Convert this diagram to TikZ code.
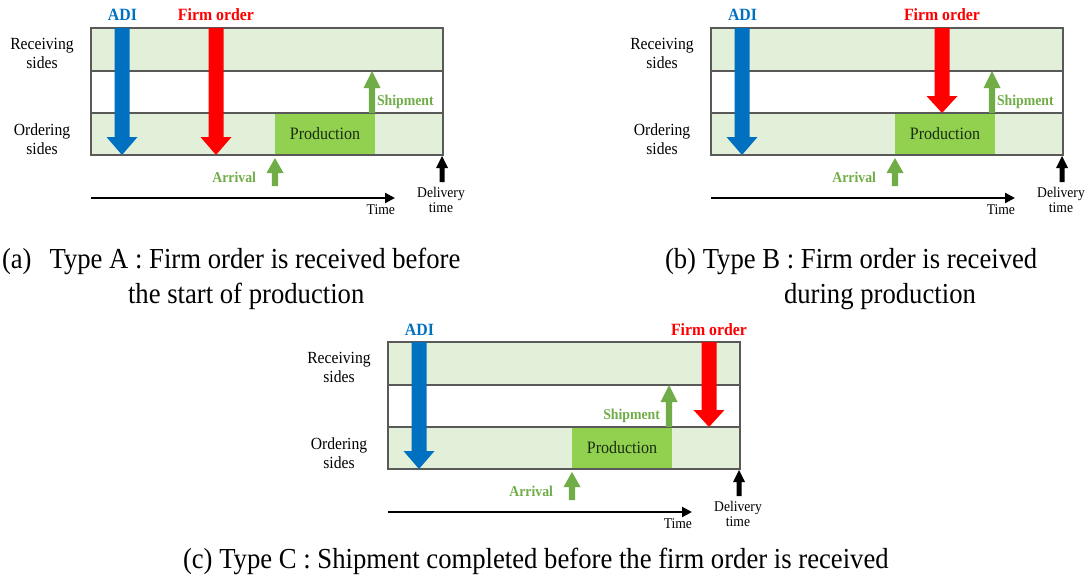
\documentclass[tikz,border=0pt]{standalone}
\usepackage{fontspec}
\setmainfont{Liberation Serif}[FakeStretch=0.92]
\usetikzlibrary{arrows.meta}
\definecolor{bandgreen}{RGB}{226,240,217}
\definecolor{prodgreen}{RGB}{146,208,80}
\definecolor{arrgreen}{RGB}{112,173,71}
\definecolor{adiblue}{RGB}{0,112,192}
\definecolor{firmred}{RGB}{255,0,0}
\definecolor{framegray}{RGB}{89,89,89}
\definecolor{prodtext}{RGB}{25,45,15}
\tikzset{
  txt/.style={inner sep=0pt, outer sep=0pt},
  sidelbl/.style={txt, align=center, anchor=north, font=\fontsize{17}{19}\selectfont},
  toplbl/.style={txt, anchor=base, font=\fontsize{17.2}{20}\selectfont\bfseries},
  greenlbl/.style={txt, font=\fontsize{15}{18}\selectfont\bfseries, text=arrgreen},
  smalllbl/.style={txt, font=\fontsize{14.8}{15.5}\selectfont},
  captxt/.style={txt, anchor=base west, font=\fontsize{29}{34}\selectfont},
  prodbox/.style={txt, fill=prodgreen, minimum width=100pt, minimum height=42pt,
                  text=prodtext, font=\fontsize{17.4}{20}\selectfont},
  frameline/.style={draw=framegray, line width=1.5pt},
  timearrow/.style={line width=2.2pt, -{Triangle[length=10pt,width=10pt]}},
}
% block arrow: colour, x, y start, y head base, y tip, half shaft, half head
\newcommand\blockarr[7]{%
  \fill[#1] ({#2-#6},#3) -- ({#2-#6},#4) -- ({#2-#7},#4) -- (#2,#5)
    -- ({#2+#7},#4) -- ({#2+#6},#4) -- ({#2+#6},#3) -- cycle;}
% panel: id, shift x, shift y, firm x, firm head base, firm tip, shipment label anchor, shipment label x
\newcommand\typepanel[8]{%
  \begin{scope}[shift={(#2,#3)}]
    \fill[bandgreen] (91,28) rectangle (443,71);
    \fill[bandgreen] (91,113) rectangle (443,155);
    \node[prodbox] (prod#1) at (325,134) {Production};
    \draw[frameline] (91,28) rectangle (443,155);
    \draw[frameline] (91,71) -- (443,71);
    \draw[frameline] (91,113) -- (443,113);
    \node[sidelbl] (recv#1) at (42,38.5) {Receiving\\sides};
    \node[sidelbl] (ord#1) at (42,123.5) {Ordering\\sides};
    \blockarr{adiblue}{122}{28}{137}{155}{7.5}{15.5}
    \blockarr{firmred}{#4}{28}{#5}{#6}{7.5}{15.5}
    \node[toplbl, text=adiblue] (adi#1) at (122.5,21) {ADI};
    \node[toplbl, text=firmred] (firm#1) at (#4,21) {Firm order};
    \blockarr{arrgreen}{372}{113}{88}{71}{3.2}{8.5}
    \node[greenlbl, anchor=#7] (ship#1) at (#8,105) {Shipment};
    \blockarr{arrgreen}{275}{186}{173}{158}{3.2}{8.5}
    \node[greenlbl, anchor=base east] (arr#1) at (256,182) {Arrival};
    \blockarr{black}{442}{182}{168}{156}{2.5}{6}
    \node[smalllbl, align=center, anchor=north] (del#1) at (441,187) {Delivery\\time};
    \coordinate (ts#1) at (91,198);
    \coordinate (te#1) at (395,198);
    \draw[timearrow] (ts#1) -- (te#1);
    \node[smalllbl, anchor=base east] (time#1) at (395,214) {Time};
  \end{scope}}
\begin{document}
\begin{tikzpicture}[x=1pt,y=-1pt]
  \useasboundingbox (0,0) rectangle (1087,586);
  \fill[white] (0,0) rectangle (1087,586);
  \typepanel{a}{0}{0}{216}{137}{155}{base west}{377}
  \typepanel{b}{620}{0}{322}{96}{113}{base west}{377}
  \typepanel{c}{297}{314}{412}{96}{113}{base east}{363}
  \node[captxt] (capa1) at (2,268) {(a)\hspace{18pt}Type A : Firm order is received before};
  \node[captxt] (capa2) at (128,303) {the start of production};
  \node[captxt] (capb1) at (665,268) {(b) Type B : Firm order is received};
  \node[captxt] (capb2) at (784,303) {during production};
  \node[captxt] (capc) at (183,568) {(c) Type C : Shipment completed before the firm order is received};
\end{tikzpicture}
\end{document}
